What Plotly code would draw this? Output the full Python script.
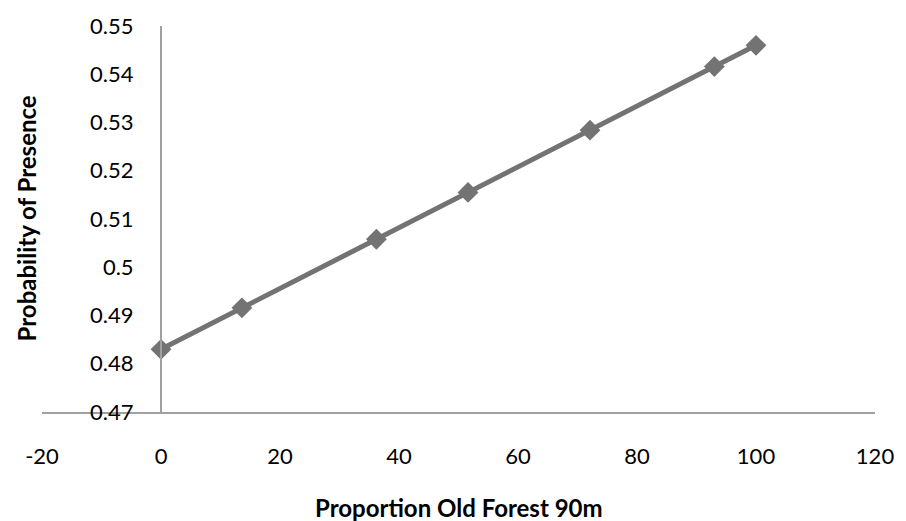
import plotly.graph_objects as go

x_vals = [0, 13.6, 36.2, 51.6, 72.1, 93.0, 100]
y_vals = [0.4830, 0.4916, 0.5058, 0.5155, 0.5284, 0.5416, 0.5460]
x_ticks = [-20, 0, 20, 40, 60, 80, 100, 120]
x_labels = ["-20", "0", "20", "40", "60", "80", "100", "120"]
y_ticks = [0.47, 0.48, 0.49, 0.50, 0.51, 0.52, 0.53, 0.54, 0.55]
y_labels = ["0.47", "0.48", "0.49", "0.5", "0.51", "0.52", "0.53", "0.54", "0.55"]

fig = go.Figure()
fig.add_trace(go.Scatter(
    x=x_vals, y=y_vals, mode="lines+markers",
    line=dict(color="#737373", width=5),
    marker=dict(symbol="diamond", size=16, color="#737373"),
    showlegend=False, cliponaxis=False,
))

font = dict(family="Lato, Open Sans, sans-serif", size=22, color="black")
fig.update_layout(
    width=906, height=521,
    margin=dict(l=42, r=20, t=20, b=109),
    paper_bgcolor="white", plot_bgcolor="white",
    font=font,
    xaxis=dict(range=[-20, 120], tickvals=x_ticks, ticktext=x_labels,
               showgrid=False, zeroline=False,
               showline=True, linecolor="#A0A0A0", linewidth=2, ticks="",
               ticklabelstandoff=24),
    yaxis=dict(range=[0.47, 0.55], tickvals=y_ticks, ticktext=y_labels,
               showgrid=False, zeroline=False, showline=True, linecolor="#A0A0A0",
               linewidth=2, ticks="", anchor="free", position=20/140,
               ticklabelstandoff=22),
    annotations=[
        dict(text="<b>Proportion Old Forest 90m</b>", x=(465 - 42) / 844, y=-0.247,
             xref="paper", yref="paper", showarrow=False, font=dict(size=24),
             xanchor="center", yanchor="middle"),
        dict(text="<b>Probability of Presence</b>", x=-0.019, y=0.502, xref="paper",
             yref="paper", showarrow=False, font=dict(size=24), textangle=-90,
             xanchor="center", yanchor="middle"),
    ],
)
fig.write_html("out.html")
